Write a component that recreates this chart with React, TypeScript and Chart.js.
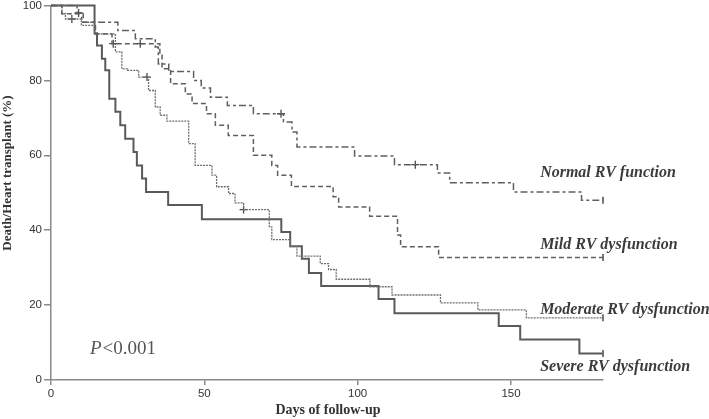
import { useEffect, useRef } from "react";
import { Chart, registerables } from "chart.js";
Chart.register(...registerables);

// Kaplan–Meier style step data: day at which survival changes, and new survival (%)
const normalDays = [0, 8.5, 10, 21.8, 27.5, 34, 35, 38.4, 46.5, 49, 52, 57.5, 66, 75.8, 78.6, 80.2, 99, 112, 126, 130, 150.8, 173, 180];
const normalPct = [100, 98, 95.5, 93.3, 91.1, 88.9, 84.4, 82.4, 80, 78, 75.5, 73.3, 71.1, 68.9, 66.2, 62.2, 59.8, 57.5, 55.3, 52.7, 50.2, 48, 48];
const normalCensor = [9, 75, 118.8];

const mildDays = [0, 3.5, 10.5, 14.5, 19.9, 35.5, 36.2, 39, 43.8, 46, 50.7, 53.6, 57.8, 66, 72, 73.9, 78.4, 92, 93.8, 103.9, 113, 114, 126.4, 180];
const mildPct = [100, 97.8, 95.5, 92.4, 89.8, 87.1, 83.1, 79.1, 76.4, 73.8, 71.1, 68, 65.3, 60, 57.3, 54.7, 51.7, 48.9, 46.2, 43.7, 38.7, 35.6, 32.7, 32.7];
const mildCensor = [20.3, 29.1];

const moderateDays = [0, 3.6, 4.7, 9.9, 14.2, 21, 23.1, 25, 28.6, 31.8, 34, 35.6, 37.8, 44.9, 47, 52.5, 54, 57.9, 60, 62.8, 71.2, 72, 78, 80.2, 87.8, 90.5, 93, 104, 111.2, 127, 139.2, 155, 180];
const moderatePct = [100, 97.8, 96.4, 94.7, 92.4, 87.6, 83.1, 82.7, 80.9, 77.3, 72.9, 70.7, 69.1, 63.1, 57.3, 54.7, 51.6, 49.8, 47.3, 45.5, 40.9, 37.5, 35.6, 33.1, 31.1, 29.5, 26.9, 24.9, 22.7, 20.6, 18.7, 16.6, 16.6];
const moderateCensor = [6.8, 31.3, 62.8];

const severeDays = [0, 14.2, 15, 16.6, 17.7, 19, 21, 22.6, 24.2, 26.9, 28, 29.7, 31, 38.2, 49.2, 75.1, 78, 81.8, 84.1, 88.1, 106.8, 112, 146, 153, 172.3, 180];
const severePct = [100, 92.6, 89.3, 85.8, 82.7, 75.1, 71.6, 68, 64.4, 60.9, 57.3, 53.8, 50.2, 46.7, 42.9, 39.5, 35.7, 32.4, 28.6, 25.1, 21.6, 17.8, 14.4, 10.8, 7.1, 7.1];
const severeCensor: number[] = [];

const seriesNames = ["Normal RV function", "Mild RV dysfunction", "Moderate RV dysfunction", "Severe RV dysfunction"];
const labelAnchorPct = [55.2, 36, 18.7, 3.5];
const xTicks = [0, 50, 100, 150];
const yTicks = [0, 20, 40, 60, 80, 100];
const xTitle = "Days of follow-up";
const yTitle = "Death/Heart transplant (%)";
const pText = "<0.001";

const series = [
  { days: normalDays, pct: normalPct, censor: normalCensor, color: "#5f5f5f", width: 1.5, dash: [7, 3, 3, 3] },
  { days: mildDays, pct: mildPct, censor: mildCensor, color: "#5f5f5f", width: 1.5, dash: [5, 3] },
  { days: moderateDays, pct: moderatePct, censor: moderateCensor, color: "#707070", width: 1.3, dash: [2, 1] },
  { days: severeDays, pct: severePct, censor: severeCensor, color: "#5a5a5a", width: 2, dash: [] as number[] },
];

function valueAt(days: number[], pct: number[], t: number) {
  let v = pct[0];
  for (let i = 0; i < days.length; i++) if (days[i] <= t) v = pct[i];
  return v;
}

const textPlugin = {
  id: "kmText",
  afterDraw(chart: any) {
    const { ctx, scales } = chart;
    const xs = scales.x;
    const ys = scales.y;
    ctx.save();
    // right-side group labels
    ctx.font = 'italic bold 16px "Liberation Serif"';
    ctx.fillStyle = "#3c3c3c";
    ctx.textAlign = "left";
    ctx.textBaseline = "middle";
    seriesNames.forEach((n, i) => {
      ctx.fillText(n, xs.getPixelForValue(159.5), ys.getPixelForValue(labelAnchorPct[i]));
    });
    // P value
    ctx.textBaseline = "alphabetic";
    ctx.fillStyle = "#555";
    ctx.font = 'italic 19px "Liberation Serif"';
    const px = xs.getPixelForValue(12.7);
    const py = ys.getPixelForValue(7);
    ctx.fillText("P", px, py);
    const pw = ctx.measureText("P").width;
    ctx.font = '19px "Liberation Serif"';
    ctx.fillText(pText, px + pw + 1, py);
    // axis titles
    ctx.fillStyle = "#333";
    ctx.font = 'bold 14px "Liberation Serif"';
    ctx.textAlign = "center";
    ctx.textBaseline = "middle";
    ctx.fillText(xTitle, 328, 410);
    ctx.translate(8, 173);
    ctx.rotate(-Math.PI / 2);
    ctx.font = 'bold 13px "Liberation Serif"';
    ctx.fillText(yTitle, 0, 0);
    ctx.restore();
  },
};

export default function App() {
  const ref = useRef<HTMLCanvasElement | null>(null);
  useEffect(() => {
    document.body.style.margin = "0";
    if (!ref.current) return;
    const datasets: any[] = [];
    series.forEach((s, si) => {
      datasets.push({
        label: seriesNames[si],
        data: s.days.map((d, i) => ({ x: d, y: s.pct[i] })),
        stepped: "before",
        borderColor: s.color,
        borderWidth: s.width,
        borderDash: s.dash,
        pointRadius: 0,
        fill: false,
        clip: false,
      });
      datasets.push({
        label: seriesNames[si] + " censored",
        data: s.censor.map((d) => ({ x: d, y: valueAt(s.days, s.pct, d) })),
        showLine: false,
        pointStyle: "cross",
        pointRadius: 4,
        borderColor: "#4a4a4a",
        pointBorderWidth: 1.3,
        clip: false,
      });
      const last = s.days.length - 1;
      datasets.push({
        label: seriesNames[si] + " end",
        data: [{ x: s.days[last], y: s.pct[last] }],
        showLine: false,
        pointStyle: "line",
        rotation: 90,
        pointRadius: 3.5,
        borderColor: "#4a4a4a",
        pointBorderWidth: 1.5,
        clip: false,
      });
    });
    const chart = new Chart(ref.current, {
      type: "line",
      data: { datasets },
      plugins: [textPlugin],
      options: {
        animation: false,
        responsive: true,
        maintainAspectRatio: false,
        layout: { padding: { top: 5, right: 106, left: 0, bottom: 0 } },
        plugins: { legend: { display: false }, tooltip: { enabled: false } },
        scales: {
          x: {
            type: "linear",
            min: 0,
            max: 180,
            afterBuildTicks: (s: any) => {
              s.ticks = xTicks.map((v) => ({ value: v }));
            },
            afterFit: (s: any) => {
              s.height = 39;
              s.paddingLeft = 0;
              s.paddingRight = 0;
            },
            grid: { drawOnChartArea: false, drawTicks: true, tickLength: 5, color: "#8a8a8a", lineWidth: 1.5 },
            border: { display: true, color: "#8a8a8a", width: 1.5 },
            ticks: { color: "#333", font: { family: "Liberation Sans", size: 11.5 }, padding: 2, maxRotation: 0, autoSkip: false },
          },
          y: {
            type: "linear",
            min: 0,
            max: 100,
            afterBuildTicks: (s: any) => {
              s.ticks = yTicks.map((v) => ({ value: v }));
            },
            afterFit: (s: any) => {
              s.width = 51;
              s.paddingTop = 0;
              s.paddingBottom = 0;
            },
            grid: { drawOnChartArea: false, drawTicks: true, tickLength: 7, color: "#8a8a8a", lineWidth: 1.5 },
            border: { display: true, color: "#8a8a8a", width: 1.5 },
            ticks: { color: "#333", font: { family: "Liberation Sans", size: 11.5 }, padding: 2, autoSkip: false },
          },
        },
      } as any,
    });
    return () => chart.destroy();
  }, []);
  return (
    <div style={{ position: "fixed", left: 0, top: 0, width: 709, height: 419, background: "#fff" }}>
      <canvas ref={ref} />
    </div>
  );
}
